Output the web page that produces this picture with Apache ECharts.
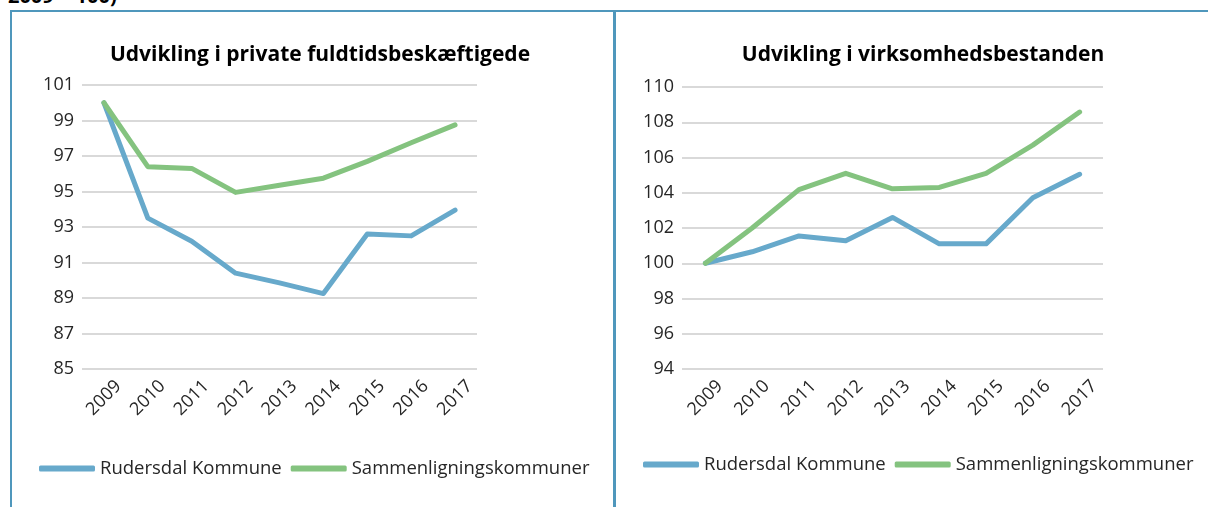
<!DOCTYPE html>
<html lang="da">
<head>
  <meta charset="UTF-8">
  <title>Udvikling</title>
  <style>
    body {
      margin: 0;
      padding: 0;
      background: #fff;
      font-family: "Open Sans", sans-serif;
    }
    .wrap {
      position: relative;
      width: 1208px;
      height: 507px;
      overflow: hidden;
    }
    .cut {
      position: absolute;
      left: 8px;
      top: -18px;
      font-weight: bold;
      font-size: 20px;
      color: #000;
    }
    .frame {
      position: absolute;
      left: 10px;
      top: 10px;
      width: 1200px;
      height: 520px;
      border-left: 2.5px solid #4f97bc;
      border-top: 2.5px solid #4f97bc;
    }
    .divider {
      position: absolute;
      left: 613px;
      top: 10px;
      width: 2.5px;
      height: 500px;
      background: #4f97bc;
    }
    #main {
      position: absolute;
      left: 0;
      top: 0;
      width: 1208px;
      height: 507px;
    }
  </style>
</head>
<body>
  <div class="wrap">
    <div class="cut">2009 = 100)</div>
    <div class="frame"></div>
    <div class="divider"></div>
    <div id="main"></div>
  </div>
</body>
</html>
<script src="https://cdn.jsdelivr.net/npm/echarts@6/dist/echarts.min.js"></script>
<script>

var years = ['2009', '2010', '2011', '2012', '2013', '2014', '2015', '2016', '2017']
var seriesNames = ['Rudersdal Kommune', 'Sammenligningskommuner']

// venstre: private fuldtidsbeskaeftigede
var beskRudersdal = [100, 93.5, 92.2, 90.4, 89.85, 89.25, 92.6, 92.5, 93.95]
var beskSammen = [100, 96.4, 96.3, 94.95, 95.35, 95.75, 96.7, 97.75, 98.75]

// hoejre: virksomhedsbestanden
var virkRudersdal = [100, 100.65, 101.55, 101.28, 102.6, 101.1, 101.1, 103.72, 105.05]
var virkSammen = [100, 102.0, 104.18, 105.1, 104.22, 104.3, 105.1, 106.7, 108.58]

var titles = ['Udvikling i private fuldtidsbeskæftigede', 'Udvikling i virksomhedsbestanden']

var blue = '#67a9cb'
var green = '#84c37f'
var textColor = '#262626'

var chart = echarts.init(document.getElementById('main'))

function xAxis(idx) {
  return {
    type: 'category',
    gridIndex: idx,
    data: years,
    boundaryGap: true,
    axisLine: { show: false },
    axisTick: { show: false },
    axisLabel: {
      rotate: 45,
      align: 'center',
      verticalAlign: 'middle',
      margin: 29,
      color: textColor,
      fontSize: 18,
      fontFamily: 'Open Sans'
    }
  }
}

function yAxis(idx, min, max) {
  return {
    type: 'value',
    gridIndex: idx,
    min: min,
    max: max,
    interval: 2,
    axisLine: { show: false },
    axisTick: { show: false },
    axisLabel: {
      margin: 8,
      color: textColor,
      fontSize: 18,
      fontFamily: 'Open Sans'
    },
    splitLine: { lineStyle: { color: '#d9d9d9', width: 2 } }
  }
}

function line(name, idx, data, color) {
  return {
    name: name,
    type: 'line',
    xAxisIndex: idx,
    yAxisIndex: idx,
    data: data,
    symbol: 'none',
    color: color,
    lineStyle: { width: 5, color: color, cap: 'round', join: 'round' }
  }
}

function legend(left, top) {
  return {
    data: seriesNames,
    left: left,
    top: top,
    width: 600,
    padding: 0,
    icon: 'roundRect',
    itemWidth: 56,
    itemHeight: 6,
    itemGap: 9,
    textStyle: { color: textColor, fontSize: 18.5, fontFamily: 'Open Sans' }
  }
}

var titleStyle = { fontSize: 21, fontWeight: 'bold', color: '#000', fontFamily: 'Open Sans' }

var option = {
  animation: false,
  title: [
    { text: titles[0], left: 315, top: 40, textAlign: 'center', textStyle: titleStyle },
    { text: titles[1], left: 918, top: 40, textAlign: 'center', textStyle: titleStyle }
  ],
  legend: [legend(39, 459), legend(643, 455)],
  grid: [
    { left: 82, right: 731, top: 85, bottom: 138 },
    { left: 682, right: 105, top: 87, bottom: 138 }
  ],
  xAxis: [xAxis(0), xAxis(1)],
  yAxis: [yAxis(0, 85, 101), yAxis(1, 94, 110)],
  series: [
    line(seriesNames[0], 0, beskRudersdal, blue),
    line(seriesNames[1], 0, beskSammen, green),
    line(seriesNames[0], 1, virkRudersdal, blue),
    line(seriesNames[1], 1, virkSammen, green)
  ]
}

chart.setOption(option)

</script>
